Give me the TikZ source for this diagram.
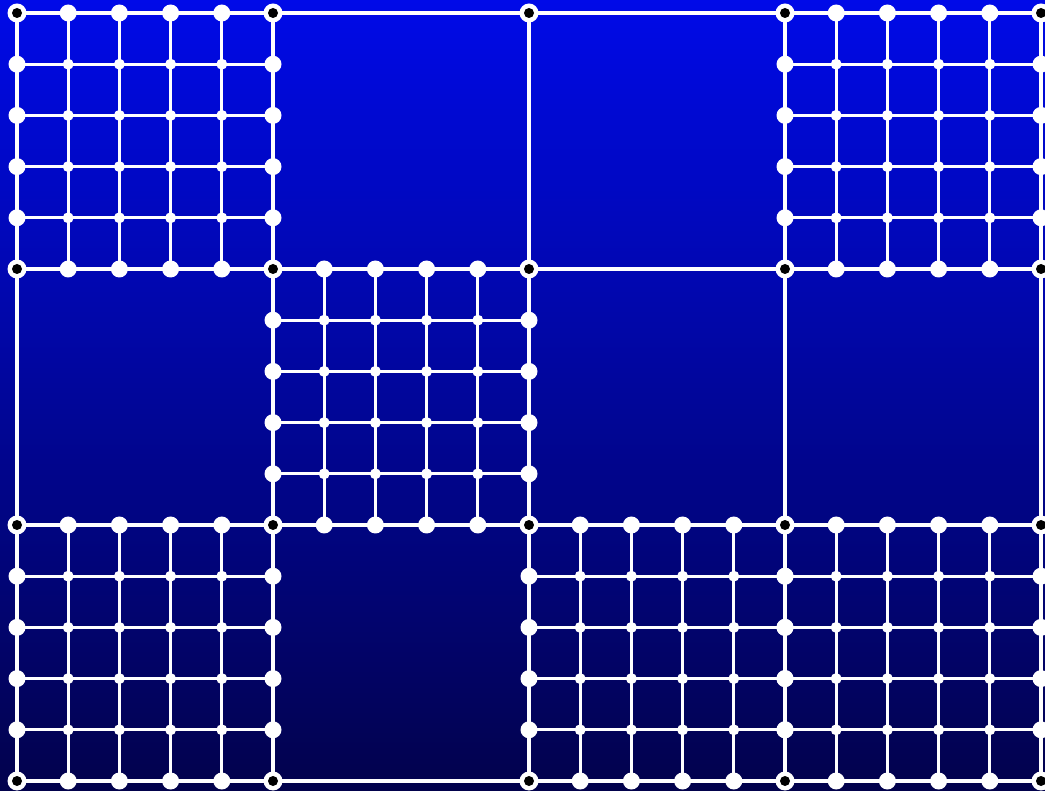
\documentclass[tikz,border=0pt]{standalone}

\definecolor{meshtop}{RGB}{0,10,232}
\definecolor{meshbottom}{RGB}{2,2,76}
\tikzset{
	coarse/.style={white, line width=4pt},
	fine/.style={white, line width=3pt},
}

\begin{document}
\begin{tikzpicture}[x=1pt, y=-1pt]
	\useasboundingbox (0, 0) rectangle (1045, 791);
	\shade [top color=meshtop, bottom color=meshbottom] (0, 0) rectangle (1045, 791);
	% coarse grid
	\foreach \i in {0,...,4} \foreach \j in {0,...,3} \coordinate (c\i\j) at (17+256*\i, 13+256*\j);
	\foreach \j in {0,...,3} \draw [coarse] (c0\j) -- (c4\j);
	\foreach \i in {0,...,4} \draw [coarse] (c\i0) -- (c\i3);
	% refined cells
	\foreach \i/\j in {0/0, 3/0, 1/1, 0/2, 2/2, 3/2} {
		\begin{scope}[shift={(c\i\j)}]
			\foreach \k in {1,...,4} {
				\draw [fine] (51.2*\k, 0) -- (51.2*\k, 256);
				\draw [fine] (0, 51.2*\k) -- (256, 51.2*\k);
				\fill [white] (51.2*\k, 0) circle [radius=8.5pt] (51.2*\k, 256) circle [radius=8.5pt]
					(0, 51.2*\k) circle [radius=8.5pt] (256, 51.2*\k) circle [radius=8.5pt];
				\foreach \l in {1,...,4} \fill [white] (51.2*\k, 51.2*\l) circle [radius=5.5pt];
			}
		\end{scope}
	}
	% coarse vertices
	\foreach \i in {0,...,4} \foreach \j in {0,...,3} {
		\fill [white] (c\i\j) circle [radius=9.5pt];
		\fill [black] (c\i\j) circle [radius=5pt];
	}
\end{tikzpicture}
\end{document}
